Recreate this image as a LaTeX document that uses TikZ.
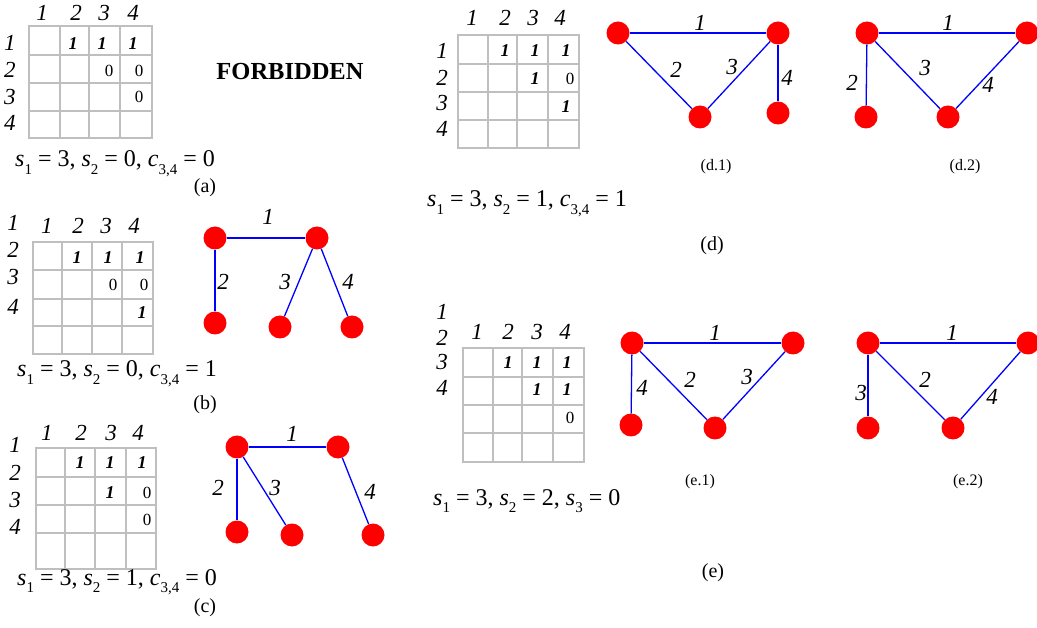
\documentclass[tikz,border=0pt]{standalone}
\usepackage{fontspec}
\setmainfont{Liberation Serif}
\newcommand\lsub[1]{\raisebox{-0.33em}{\fontsize{15}{15}\selectfont #1}}
\newcommand\eqv[2]{\textit{#1}\lsub{#2}}
\newcommand\mgrid[6]{%
  \foreach \gx in {#1} \draw[grid] (\gx,#5) -- (\gx,#6);
  \foreach \gy in {#2} \draw[grid] (#3,\gy) -- (#4,\gy);}
\begin{document}
\begin{tikzpicture}[x=1pt,y=-1pt,
  grid/.style={draw=black!25, line width=1.8pt, line cap=rect},
  lab/.style={font=\fontsize{23}{23}\selectfont\itshape, inner sep=0pt},
  one/.style={font=\fontsize{18}{18}\selectfont\bfseries\itshape, inner sep=0pt},
  zero/.style={font=\fontsize{17}{17}\selectfont, inner sep=0pt},
  eqtxt/.style={font=\fontsize{24}{24}\selectfont, inner sep=0pt, anchor=base west},
  captxt/.style={font=\fontsize{20}{20}\selectfont, inner sep=0pt},
  subcap/.style={font=\fontsize{16}{16}\selectfont, inner sep=0pt},
  vtx/.style={circle, fill=red, minimum size=23pt, inner sep=0pt},
  edge/.style={draw=blue, line width=1.3pt},
  elab/.style={font=\fontsize{23}{23}\selectfont\itshape, inner sep=0pt}]
\useasboundingbox (0,0) rectangle (1037,628);

% ---------- (a) ----------
\mgrid{29,60,89,120,152}{26,55,83,111,138}{29}{152}{26}{138}
\foreach \t/\x in {1/42,2/76,3/104,4/133} \node[lab] (ac\t) at (\x,13) {\t};
\foreach \t/\y in {1/43,2/70,3/97,4/123} \node[lab] (ar\t) at (10,\y) {\t};
\node[one] (a12) at (73,44) {1};
\node[one] (a13) at (102,44) {1};
\node[one] (a14) at (133,44) {1};
\node[zero] (a23) at (109,71) {0};
\node[zero] (a24) at (139,71) {0};
\node[zero] (a34) at (139,97) {0};
\node[eqtxt] (aeq) at (15,167) {\eqv{s}{1} = 3, \eqv{s}{2} = 0, \eqv{c}{3,4} = 0};
\node[captxt] (acap) at (205,188) {(a)};
\node[font=\fontsize{24.5}{24.5}\selectfont\bfseries, inner sep=0pt] (forb) at (290,72) {FORBIDDEN};

% ---------- (b) ----------
\mgrid{33,62,92,122,153}{242,270,299,326,354}{33}{153}{242}{354}
\foreach \t/\x in {1/47,2/78,3/106,4/134} \node[lab] (bc\t) at (\x,226) {\t};
\foreach \t/\y in {1/223,2/250,3/277,4/307} \node[lab] (br\t) at (13,\y) {\t};
\node[one] (b12) at (77,258) {1};
\node[one] (b13) at (108,258) {1};
\node[one] (b14) at (140,258) {1};
\node[zero] (b23) at (113,285) {0};
\node[zero] (b24) at (144,285) {0};
\node[one] (b34) at (142,313) {1};
\node[eqtxt] (beq) at (17,377) {\eqv{s}{1} = 3, \eqv{s}{2} = 0, \eqv{c}{3,4} = 1};
\node[captxt] (bcap) at (205,405) {(b)};
\node[vtx] (bTL) at (215,238) {};
\node[vtx] (bTR) at (317,238) {};
\node[vtx] (bBL) at (215,323) {};
\node[vtx] (bBM) at (280,327) {};
\node[vtx] (bBR) at (352,327) {};
\draw[edge] (bTL) -- (bTR);
\draw[edge] (bTL) -- (bBL);
\draw[edge] (bTR) -- (bBM);
\draw[edge] (bTR) -- (bBR);
\node[elab] (be1) at (268,217) {1};
\node[elab] (be2) at (223,282) {2};
\node[elab] (be3) at (285,282) {3};
\node[elab] (be4) at (348,282) {4};

% ---------- (c) ----------
\mgrid{36,65,95,126,156}{448,477,505,533,569}{36}{156}{448}{569}
\foreach \t/\x in {1/47,2/81,3/111,4/138} \node[lab] (cc\t) at (\x,433) {\t};
\foreach \t/\y in {1/445,2/473,3/500,4/527} \node[lab] (cr\t) at (15,\y) {\t};
\node[one] (c12) at (80,463) {1};
\node[one] (c13) at (110,463) {1};
\node[one] (c14) at (142,463) {1};
\node[one] (c23) at (110,493) {1};
\node[zero] (c24) at (147,493) {0};
\node[zero] (c34) at (147,520) {0};
\node[eqtxt] (ceq) at (17,585) {\eqv{s}{1} = 3, \eqv{s}{2} = 1, \eqv{c}{3,4} = 0};
\node[captxt] (ccap) at (205,608) {(c)};
\node[vtx] (cTL) at (237,447) {};
\node[vtx] (cTR) at (338,447) {};
\node[vtx] (cBL) at (237,532) {};
\node[vtx] (cBM) at (292,535) {};
\node[vtx] (cBR) at (373,535) {};
\draw[edge] (cTL) -- (cTR);
\draw[edge] (cTL) -- (cBL);
\draw[edge] (cTL) -- (cBM);
\draw[edge] (cTR) -- (cBR);
\node[elab] (ce1) at (292,434) {1};
\node[elab] (ce2) at (218,488) {2};
\node[elab] (ce3) at (275,488) {3};
\node[elab] (ce4) at (370,492) {4};

% ---------- (d) ----------
\mgrid{458,488,517,548,579}{35,64,92,120,148}{458}{579}{35}{148}
\foreach \t/\x in {1/472,2/505,3/533,4/560} \node[lab] (dc\t) at (\x,18) {\t};
\foreach \t/\y in {1/51,2/78,3/103,4/129} \node[lab] (dr\t) at (442,\y) {\t};
\node[one] (d12) at (505,51) {1};
\node[one] (d13) at (535,51) {1};
\node[one] (d14) at (566,51) {1};
\node[one] (d23) at (535,79) {1};
\node[zero] (d24) at (570,79) {0};
\node[one] (d34) at (566,107) {1};
\node[eqtxt] (deq) at (427,207) {\eqv{s}{1} = 3, \eqv{s}{2} = 1, \eqv{c}{3,4} = 1};
\node[captxt] (dcap) at (712,246) {(d)};
% d.1
\node[vtx] (d1A) at (618,33) {};
\node[vtx] (d1B) at (778,33) {};
\node[vtx] (d1C) at (700,117) {};
\node[vtx] (d1D) at (778,113) {};
\draw[edge] (d1A) -- (d1B);
\draw[edge] (d1A) -- (d1C);
\draw[edge] (d1B) -- (d1C);
\draw[edge] (d1B) -- (d1D);
\node[elab] (d1e1) at (700,23) {1};
\node[elab] (d1e2) at (676,70) {2};
\node[elab] (d1e3) at (732,67) {3};
\node[elab] (d1e4) at (787,78) {4};
\node[subcap] (d1cap) at (716,167) {(d.1)};
% d.2
\node[vtx] (d2A) at (867,33) {};
\node[vtx] (d2B) at (1027,33) {};
\node[vtx] (d2C) at (866,117) {};
\node[vtx] (d2D) at (948,117) {};
\draw[edge] (d2A) -- (d2B);
\draw[edge] (d2A) -- (d2C);
\draw[edge] (d2A) -- (d2D);
\draw[edge] (d2B) -- (d2D);
\node[elab] (d2e1) at (948,23) {1};
\node[elab] (d2e2) at (852,83) {2};
\node[elab] (d2e3) at (925,68) {3};
\node[elab] (d2e4) at (988,85) {4};
\node[subcap] (d2cap) at (965,167) {(d.2)};

% ---------- (e) ----------
\foreach \t/\y in {1/312,2/338,3/362,4/388} \node[lab] (er\t) at (442,\y) {\t};
\mgrid{463,493,522,553,584}{348,377,405,433,462}{463}{584}{348}{462}
\foreach \t/\x in {1/477,2/508,3/537,4/565} \node[lab] (ec\t) at (\x,332) {\t};
\node[one] (e12) at (508,363) {1};
\node[one] (e13) at (537,363) {1};
\node[one] (e14) at (567,363) {1};
\node[one] (e23) at (537,390) {1};
\node[one] (e24) at (567,390) {1};
\node[zero] (e34) at (570,418) {0};
\node[eqtxt] (eeq) at (433,505) {\eqv{s}{1} = 3, \eqv{s}{2} = 2, \eqv{s}{3} = 0};
\node[captxt] (ecap) at (713,573) {(e)};
% e.1
\node[vtx] (e1A) at (632,343) {};
\node[vtx] (e1B) at (793,343) {};
\node[vtx] (e1C) at (715,428) {};
\node[vtx] (e1D) at (631,425) {};
\draw[edge] (e1A) -- (e1B);
\draw[edge] (e1A) -- (e1C);
\draw[edge] (e1B) -- (e1C);
\draw[edge] (e1A) -- (e1D);
\node[elab] (e1e1) at (715,333) {1};
\node[elab] (e1e2) at (690,380) {2};
\node[elab] (e1e3) at (747,377) {3};
\node[elab] (e1e4) at (642,388) {4};
\node[subcap] (e1cap) at (700,482) {(e.1)};
% e.2
\node[vtx] (e2A) at (868,343) {};
\node[vtx] (e2B) at (1028,343) {};
\node[vtx] (e2C) at (953,428) {};
\node[vtx] (e2D) at (868,428) {};
\draw[edge] (e2A) -- (e2B);
\draw[edge] (e2A) -- (e2C);
\draw[edge] (e2A) -- (e2D);
\draw[edge] (e2B) -- (e2C);
\node[elab] (e2e1) at (952,333) {1};
\node[elab] (e2e2) at (925,380) {2};
\node[elab] (e2e3) at (861,393) {3};
\node[elab] (e2e4) at (992,397) {4};
\node[subcap] (e2cap) at (968,482) {(e.2)};
\end{tikzpicture}
\end{document}
